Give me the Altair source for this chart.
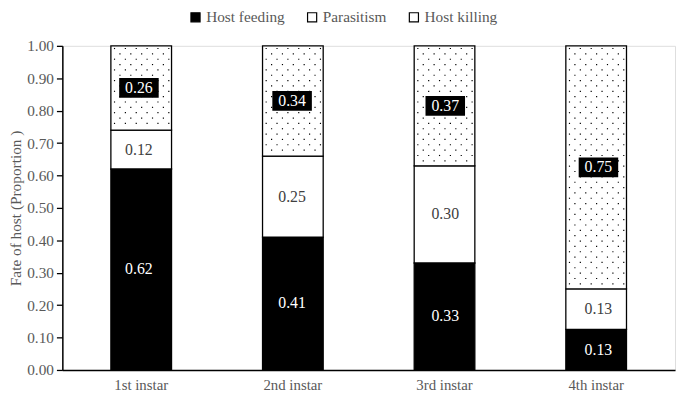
import altair as alt
import pandas as pd

instars = ["1st instar", "2nd instar", "3rd instar", "4th instar"]
fates = ["Host feeding", "Parasitism", "Host killing"]
host_feeding = [0.62, 0.41, 0.33, 0.125]
parasitism = [0.12, 0.25, 0.30, 0.125]
host_killing = [0.26, 0.34, 0.37, 0.75]
y_ticks = [0.0, 0.1, 0.2, 0.3, 0.4, 0.5, 0.6, 0.7, 0.8, 0.9, 1.0]

FONT = "Liberation Serif, Times New Roman, serif"
GRAY = "#595959"
P_INNER = 0.6
P_OUTER = 0.32

rows = []
for i, inst in enumerate(instars):
    vals = [host_feeding[i], parasitism[i], host_killing[i]]
    base = 0.0
    for j, (f, v) in enumerate(zip(fates, vals)):
        rows.append(dict(instar=inst, idx=i, fate=f, value=v, order=j,
                         y0=base, y1=base + v, mid=base + v / 2))
        base += v
df = pd.DataFrame(rows)

# dotted texture for the "Host killing" segments, in band-step units
bw = 1 - P_INNER
dots = []
row_step = 0.0165
col_step = 0.179
for i, inst in enumerate(instars):
    lo = host_feeding[i] + parasitism[i]
    k = 0
    y = 1.0 - row_step / 2
    while y > lo + 0.005:
        o = 0.06 + (col_step / 2 if k % 2 else 0.0)
        while o < 0.97:
            dots.append(dict(pos=P_OUTER + i + o * bw, y=y))
            o += col_step
        y -= row_step
        k += 1
dots_df = pd.DataFrame(dots)
span = len(instars) - P_INNER + 2 * P_OUTER

xscale = alt.Scale(domain=instars, paddingInner=P_INNER, paddingOuter=P_OUTER)
yscale = alt.Scale(domain=[0, 1], nice=False)

x_enc = alt.X("instar:N", scale=xscale, sort=instars,
              axis=alt.Axis(title=None, labelAngle=0, ticks=False, labelPadding=8,
                            labelFont=FONT, labelFontSize=15, labelColor=GRAY,
                            domainColor="black", domainWidth=1.5))
x_plain = alt.X("instar:N", scale=xscale, sort=instars, axis=None)
y_plain_mid = alt.Y("mid:Q", scale=yscale, axis=None)

bars = alt.Chart(df).mark_bar(stroke="black", strokeWidth=1.3).encode(
    x=x_enc,
    y=alt.Y("y0:Q", scale=yscale,
            axis=alt.Axis(title="Fate of host (Proportion )", values=y_ticks, format=".2f",
                          grid=False, tickSize=6, tickColor="black", tickWidth=1.3,
                          domainColor="black", domainWidth=1.5, labelOverlap=False,
                          labelFont=FONT, labelFontSize=15.5, labelColor=GRAY, labelPadding=3,
                          titleFont=FONT, titleFontSize=15.5, titleColor=GRAY,
                          titleFontWeight="normal", titlePadding=3)),
    y2="y1:Q",
    fill=alt.Fill("fate:N", scale=alt.Scale(domain=fates, range=["black", "white", "white"]),
                  legend=alt.Legend(title=None, orient="none", direction="horizontal",
                                    legendX=127, legendY=-37, symbolType="square",
                                    symbolSize=85, symbolStrokeColor="black",
                                    symbolStrokeWidth=1.2, labelFont=FONT,
                                    labelFontSize=15.5, labelColor=GRAY, labelOffset=3,
                                    columnPadding=19)),
)

dot_layer = alt.Chart(dots_df).mark_square(size=1.4, color="black", opacity=1).encode(
    x=alt.X("pos:Q", scale=alt.Scale(domain=[0, span], nice=False, zero=False), axis=None),
    y=alt.Y("y:Q", scale=yscale, axis=None),
)

kill = df[df.fate == "Host killing"]
boxes = alt.Chart(kill).mark_point(
    shape="M-1,-0.5L1,-0.5L1,0.5L-1,0.5Z", size=1600, filled=True,
    color="black", opacity=1, strokeWidth=0).encode(
    x=x_plain,
    y=y_plain_mid,
)


def text_layer(fate, colour):
    return alt.Chart(df[df.fate == fate]).mark_text(font=FONT, fontSize=16, color=colour).encode(
        x=x_plain,
        y=y_plain_mid,
        text=alt.Text("value:Q", format=".2f"),
    )


chart = alt.layer(bars, dot_layer, boxes,
                  text_layer("Host feeding", "white"),
                  text_layer("Parasitism", "#404040"),
                  text_layer("Host killing", "white")).resolve_scale(
    x="independent", y="independent").properties(
    width=620, height=328,
    autosize=alt.AutoSizeParams(type="none"),
    padding={"left": 55, "top": 36, "right": 2, "bottom": 20},
).configure_view(stroke=None).configure(background="white")

chart.save("out.html", embed_options={"renderer": "svg", "actions": False})
